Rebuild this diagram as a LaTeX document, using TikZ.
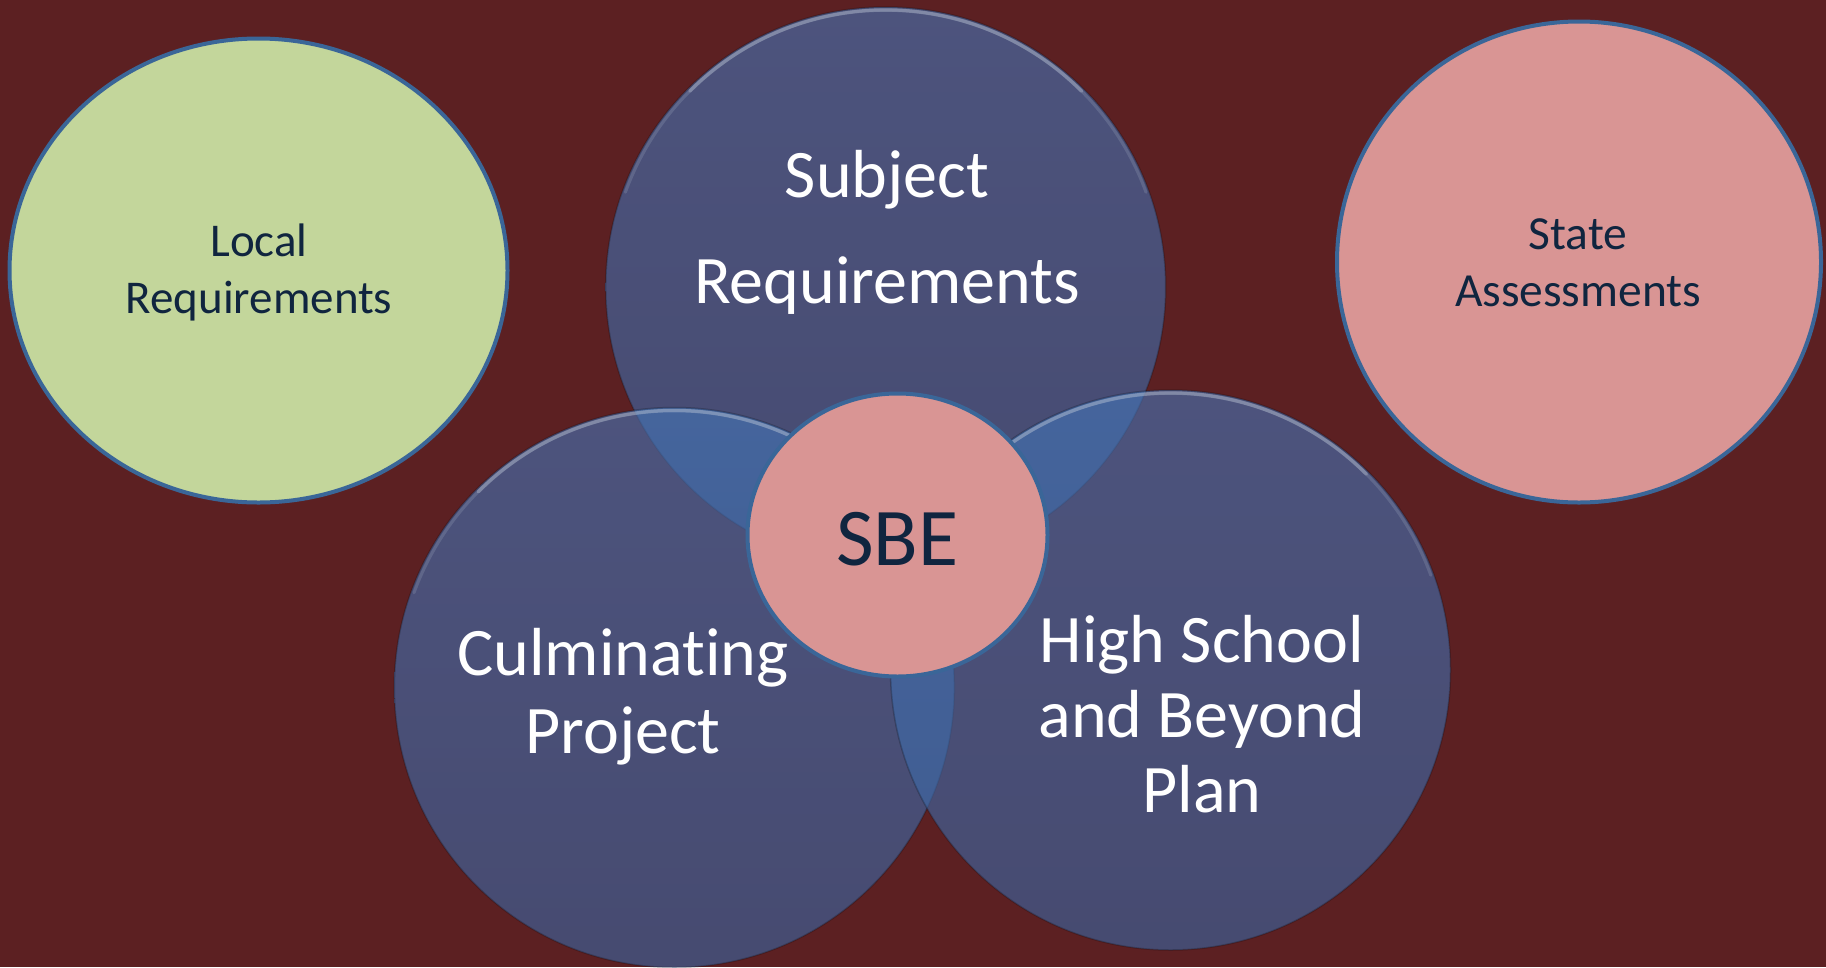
\documentclass[tikz,border=0pt]{standalone}
\usepackage{fontspec}
\setmainfont{Carlito}[Ligatures=NoCommon]
\usetikzlibrary{shapes.geometric}
\definecolor{bg}{RGB}{92,32,34}
\definecolor{vennTop}{RGB}{68,116,182}
\definecolor{vennBot}{RGB}{58,102,162}
\definecolor{pinkfill}{RGB}{217,149,148}
\definecolor{greenfill}{RGB}{195,214,155}
\definecolor{ring}{RGB}{58,102,152}
\definecolor{navy}{RGB}{16,37,63}
\definecolor{rimcol}{RGB}{190,200,215}
\begin{document}
\begin{tikzpicture}[x=1pt,y=-1pt,
  venncircle/.style={circle, minimum size=560pt, inner sep=0pt,
    top color=vennTop, bottom color=vennBot, fill opacity=0.62,
    draw=black, draw opacity=0.22, line width=1.5pt},
  rimlight/.style={draw=rimcol, line width=3.5pt, draw opacity=0.35, line cap=round},
  rimsoft/.style={draw=rimcol, line width=3pt, draw opacity=0.18, line cap=round},
  sidecircle/.style={inner sep=0pt, draw=ring, line width=4pt},
  whitelabel/.style={anchor=base, align=center, inner sep=0pt, text=white},
  navylabel/.style={anchor=base, align=center, inner sep=0pt, text=navy}]
\fill[bg] (0,0) rectangle (1826,967);
\useasboundingbox (0,0) rectangle (1826,967);
% side ellipses
\node[sidecircle, ellipse, fill=greenfill, minimum width=498pt, minimum height=464pt] (local) at (258.5,270.5) {};
\node[sidecircle, ellipse, fill=pinkfill, minimum width=484pt, minimum height=481pt] (state) at (1579,262) {};
% venn circles, each with a light rim at its top
\node[venncircle] (subject) at (885.7,287) {};
\draw[rimsoft] (subject.center) ++(-160:277) arc[start angle=-160, end angle=-20, radius=277];
\draw[rimlight] (subject.center) ++(-135:277) arc[start angle=-135, end angle=-45, radius=277];
\node[venncircle] (culm) at (674.3,687.5) {};
\draw[rimsoft] (culm.center) ++(-160:277) arc[start angle=-160, end angle=-20, radius=277];
\draw[rimlight] (culm.center) ++(-135:277) arc[start angle=-135, end angle=-45, radius=277];
\node[venncircle] (hsbp) at (1170.5,670) {};
\draw[rimsoft] (hsbp.center) ++(-160:277) arc[start angle=-160, end angle=-20, radius=277];
\draw[rimlight] (hsbp.center) ++(-135:277) arc[start angle=-135, end angle=-45, radius=277];
% centre
\node[sidecircle, ellipse, fill=pinkfill, minimum width=300pt, minimum height=283pt] (sbe) at (897.5,535) {};
% labels (anchor = baseline of the last line)
\node[navylabel, font=\fontsize{47}{57}\selectfont] (localtxt) at (259,313) {Local\\Requirements};
\node[navylabel, font=\fontsize{47.5}{57}\selectfont] (statetxt) at (1578,306.5) {State\\Assessments};
\node[whitelabel, font=\fontsize{68}{106}\selectfont] (subjtxt) at (887,303) {Subject\\Requirements};
\node[whitelabel, font=\fontsize{68}{78}\selectfont] (culmtxt) at (623,753) {Culminating\\Project};
\node[whitelabel, font=\fontsize{68}{75}\selectfont] (hstxt) at (1202,812) {High School\\and Beyond\\Plan};
\node[navylabel, font=\fontsize{82}{90}\selectfont] (sbetxt) at (897.5,565) {SBE};
\end{tikzpicture}
\end{document}
